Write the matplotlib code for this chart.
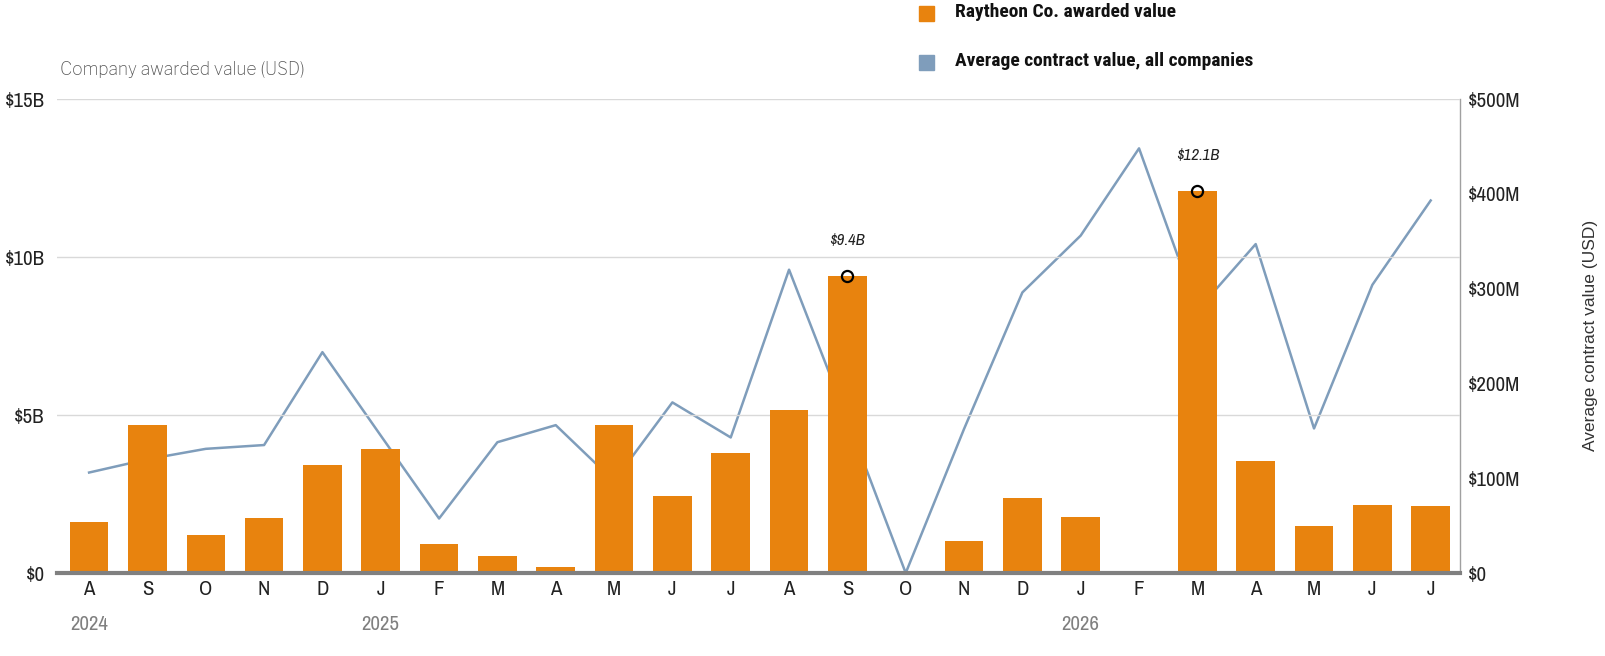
import numpy as np
import matplotlib.pyplot as plt
from matplotlib import font_manager as fm
import matplotlib.transforms as mtransforms

# podaci
months = ['A', 'S', 'O', 'N', 'D', 'J', 'F', 'M', 'A', 'M', 'J', 'J',
          'A', 'S', 'O', 'N', 'D', 'J', 'F', 'M', 'A', 'M', 'J', 'J']
raytheon_b = [1.63, 4.70, 1.20, 1.73, 3.43, 3.93, 0.92, 0.55, 0.18, 4.70, 2.44, 3.80,
              5.17, 9.40, 0.0, 1.01, 2.38, 1.76, 0.0, 12.10, 3.55, 1.48, 2.16, 2.13]
avg_m = [106, 120, 131, 135, 233, 145, 57.5, 138, 156, 97, 180, 143,
         320, 162, 0, 152, 296, 356, 448, 277, 347, 152.5, 304, 393]
years = ['2024', '2025', '2026']
year_idx = [0, 5, 17]
highlight_idx = [13, 19]

orange = '#E8830E'
blue = '#7F9DBB'

fonts = fm.fontManager.ttflist
names = {f.name for f in fonts}
def pick(cands, bold=False):
    for c in cands:
        if bold:
            if any(f.name == c and int(f.weight) >= 700 for f in fonts):
                return c
        elif c in names:
            return c
    return 'DejaVu Sans'

narrow = pick(['Archivo Narrow', 'Roboto Condensed', 'PT Sans Narrow', 'Liberation Sans Narrow'])
narrow_bold = pick(['Roboto Condensed', 'Archivo Narrow', 'Barlow Condensed', 'Fira Sans Condensed',
                    'PT Sans Narrow', 'Oswald', 'Liberation Sans Narrow'], bold=True)
franklin = pick(['Libre Franklin', 'Liberation Sans'])
arial = pick(['Liberation Sans', 'Arimo'])
plt.rcParams['font.family'] = [narrow, 'DejaVu Sans']

fig = plt.figure(figsize=(16.06, 6.56), dpi=100)
ax = fig.add_axes([0.0355, 0.1265, 0.8735, 0.7225])
ax2 = ax.twinx()

x = np.arange(len(months))
ax.bar(x, raytheon_b, width=0.66, color=orange, zorder=2)
ax2.plot(x, avg_m, color=blue, lw=1.8, zorder=3)

# kruzici i oznake
for i in highlight_idx:
    ax.plot(i, raytheon_b[i], marker='o', ms=8, mfc='none', mec='black', mew=1.6, zorder=5)
    ax.annotate('$%.1fB' % raytheon_b[i], (i, raytheon_b[i]), xytext=(0, 22),
                textcoords='offset points', ha='center', fontsize=12, style='italic',
                color='#222222')
ax.set_zorder(ax2.get_zorder() + 1)
ax.patch.set_visible(False)

ax.set_xlim(-0.55, 23.5)
ax.set_ylim(0, 15)
ax2.set_ylim(0, 500)

ax.set_yticks([0, 5, 10, 15])
ax.set_yticklabels(['$0', '$5B', '$10B', '$15B'])
ax2.set_yticks([0, 100, 200, 300, 400, 500])
ax2.set_yticklabels(['$0', '$100M', '$200M', '$300M', '$400M', '$500M'])
ax.set_xticks(x)
ax.set_xticklabels(months)

ax.grid(axis='y', color='#d9d9d9', lw=1, zorder=0)
ax.tick_params(axis='y', length=0, labelsize=15, labelcolor='#222222', pad=9)
ax.tick_params(axis='x', length=0, labelsize=15, labelcolor='#222222', pad=5)
ax2.tick_params(axis='y', length=0, labelsize=15, labelcolor='#222222', pad=6)

for a in (ax, ax2):
    for s in ('top', 'left', 'right', 'bottom'):
        a.spines[s].set_visible(False)
ax.spines['bottom'].set_visible(True)
ax.spines['bottom'].set_color('#808080')
ax.spines['bottom'].set_linewidth(3)
ax2.spines['right'].set_visible(True)
ax2.spines['right'].set_color('#a0a0a0')
ax2.spines['right'].set_linewidth(1)

# godine
trans = mtransforms.blended_transform_factory(ax.transData, fig.transFigure)
for i, y in zip(year_idx, years):
    fig.text(i, 1 - 624 / 656, y, transform=trans, ha='center', va='center',
             fontsize=15, color='#808080')

fig.text(60 / 1606, 1 - 69 / 656, 'Company awarded value (USD)', ha='left', va='center',
         fontsize=12.5, color='#555555', fontweight='normal', family=[franklin, 'DejaVu Sans'])
fig.text(1591 / 1606, 1 - 335 / 656, 'Average contract value (USD)', rotation=90,
         ha='center', va='center', fontsize=12.5, color='#333333', family=[arial, 'DejaVu Sans'])

# legenda
fig.patches.append(plt.Rectangle((919 / 1606, 1 - 21 / 656), 15 / 1606, 15 / 656,
                                 transform=fig.transFigure, color=orange))
fig.patches.append(plt.Rectangle((919 / 1606, 1 - 70 / 656), 15 / 1606, 15 / 656,
                                 transform=fig.transFigure, color=blue))
fig.text(955 / 1606, 1 - 12 / 656, 'Raytheon Co. awarded value', ha='left', va='center',
         fontsize=14, fontweight='bold', color='#111111', family=[narrow_bold, 'DejaVu Sans'])
fig.text(955 / 1606, 1 - 61 / 656, 'Average contract value, all companies', ha='left',
         va='center', fontsize=14, fontweight='bold', color='#111111',
         family=[narrow_bold, 'DejaVu Sans'])

fig.savefig('out.png', dpi=100)
